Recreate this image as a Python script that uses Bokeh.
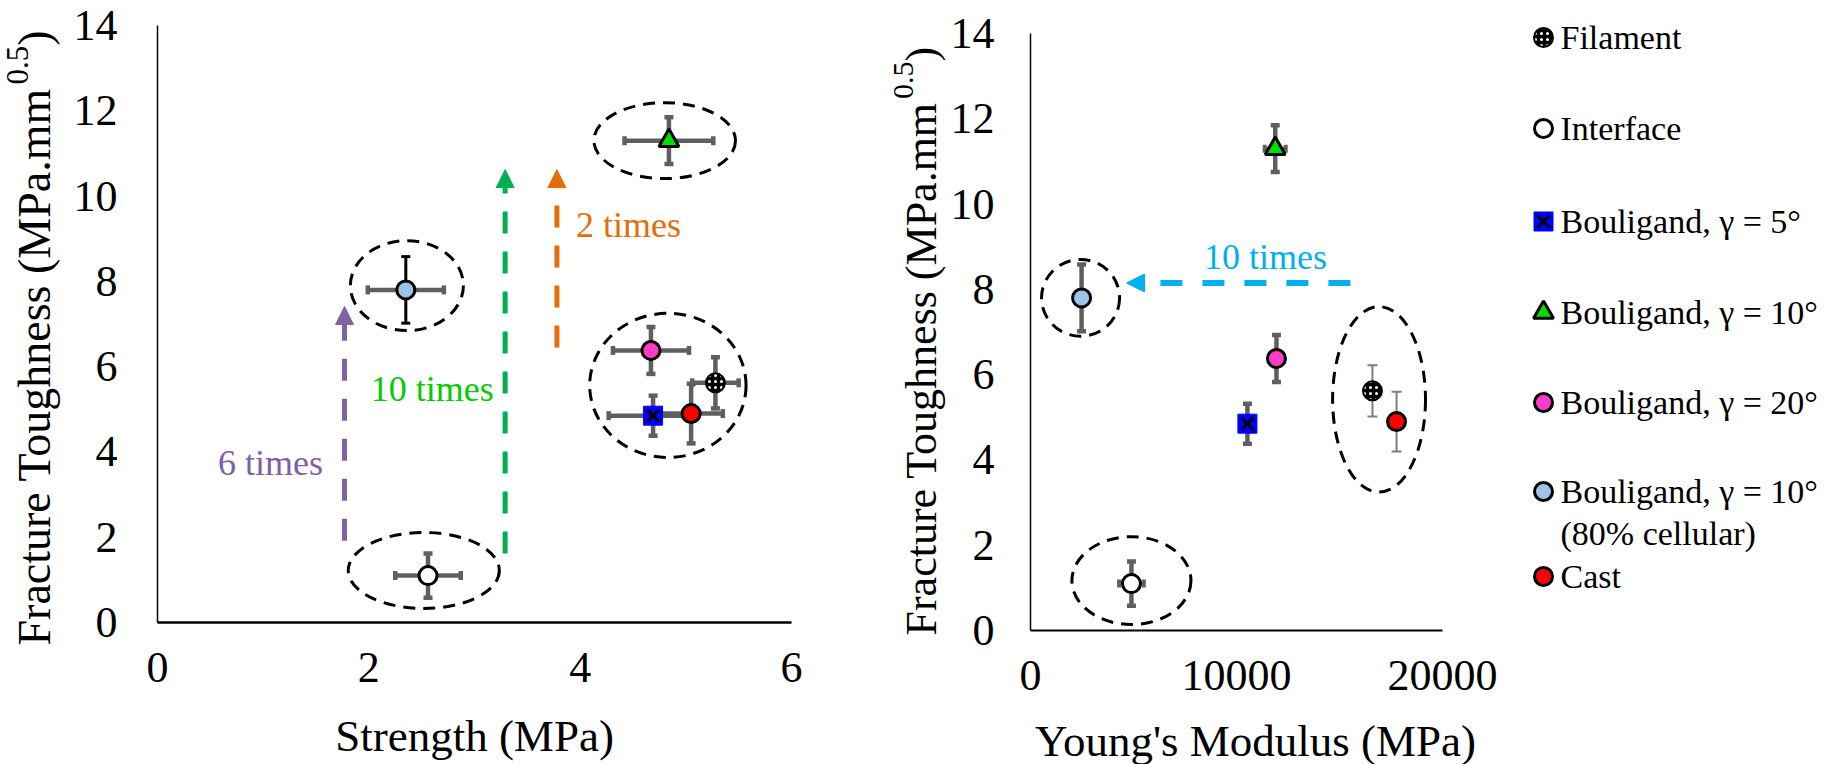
import math
from bokeh.plotting import figure
from bokeh.layouts import row, column
from bokeh.models import (Range1d, FixedTicker, Whisker, TeeHead, ColumnDataSource,
                          Arrow, NormalHead, Label)
from bokeh.core.properties import value
from bokeh.embed import file_html
from bokeh.resources import INLINE

FONT = "Liberation Serif"

# ---------------- data ----------------
series = ["Filament", "Interface", "Bouligand, γ = 5°", "Bouligand, γ = 10°",
          "Bouligand, γ = 20°", "Bouligand, γ = 10°", "Cast"]
legend_lines = ["Filament", "Interface", "Bouligand, γ = 5°", "Bouligand, γ = 10°",
                "Bouligand, γ = 20°", "Bouligand, γ = 10°", "(80% cellular)", "Cast"]
fill_colors = ["#000000", "#FFFFFF", "#0000FF", "#00E000", "#FF3CC8", "#9DC3E6", "#FF0000"]
markers = ["circle", "circle", "square", "triangle", "circle", "circle", "circle"]

strength = [5.28, 2.56, 4.69, 4.84, 4.67, 2.35, 5.05]
strength_err = [0.22, 0.31, 0.42, 0.42, 0.36, 0.36, 0.30]
toughness = [5.62, 1.10, 4.85, 11.30, 6.38, 7.80, 4.90]
toughness_err = [0.60, 0.52, 0.47, 0.55, 0.55, 0.78, 0.70]
modulus = [16600, 4900, 10530, 11880, 11940, 2480, 17770]
modulus_err = [0, 600, 0, 510, 0, 0, 0]

x1_ticks = [0, 2, 4, 6]
y_ticks = [0, 2, 4, 6, 8, 10, 12, 14]
x2_ticks = [0, 10000, 20000]

x_titles = ["Strength (MPa)", "Young's Modulus (MPa)"]
y_title_parts = ["Fracture Toughness (MPa.mm", "0.5", ")"]

# group ellipses (centre x, centre y, width, height)
ell1_x = [4.80, 2.36, 4.83, 2.52]
ell1_y = [11.30, 7.90, 5.56, 1.22]
ell1_w = [1.34, 1.07, 1.48, 1.43]
ell1_h = [1.78, 2.11, 3.38, 1.78]
ell2_x = [2430, 4900, 16920]
ell2_y = [7.80, 1.17, 5.42]
ell2_w = [3790, 5780, 4510]
ell2_h = [1.80, 2.06, 4.35]

# annotations
arrows1 = [  # x, y_start, y_end, colour
    (1.77, 1.92, 7.41, "#8064A2"),
    (3.29, 1.62, 10.62, "#00B050"),
    (3.78, 6.45, 10.62, "#E46C0A"),
]
texts1 = [  # x, y, text, colour, align
    (1.07, 3.73, "6 times", "#7F5FA5", "center"),
    (2.60, 5.47, "10 times", "#00CC00", "center"),
    (3.96, 9.31, "2 times", "#E46C0A", "left"),
]
arrow2 = (15530, 4660, 8.15, "#00B0F0")
text2 = (11410, 8.76, "10 times", "#00B0F0")

GREY = "#5F5F5F"
W = 1825
RH = 710          # height of the row with the plots
XH = 764 - RH     # height of the strip holding the x-axis titles


def style_axes(p, xticks, yticks, ystand):
    p.xaxis.ticker = FixedTicker(ticks=xticks)
    p.yaxis.ticker = FixedTicker(ticks=yticks)
    for ax in (p.xaxis, p.yaxis):
        ax.major_tick_line_color = None
        ax.minor_tick_line_color = None
        ax.major_tick_out = 0
        ax.major_tick_in = 0
        ax.major_label_text_font = FONT
        ax.major_label_text_font_size = "44px"
        ax.major_label_text_color = "black"
        ax.axis_line_color = "black"
    p.xaxis.axis_line_width = 2.5
    p.yaxis.axis_line_width = 1.5
    p.yaxis.major_label_standoff = ystand
    p.xaxis.major_label_standoff = 30
    p.xgrid.visible = False
    p.ygrid.visible = False
    p.outline_line_color = None


def add_whisker(p, xs, ys, errs, idx, dim, color, width, cap):
    sel = [i for i in idx if errs[i] > 0]
    if not sel:
        return
    if dim == "height":
        d = dict(base=[xs[i] for i in sel], lower=[ys[i] - errs[i] for i in sel],
                 upper=[ys[i] + errs[i] for i in sel])
    else:
        d = dict(base=[ys[i] for i in sel], lower=[xs[i] - errs[i] for i in sel],
                 upper=[xs[i] + errs[i] for i in sel])
    w = Whisker(source=ColumnDataSource(d), base="base", lower="lower", upper="upper",
                dimension=dim, line_color=color, line_width=width, level="underlay",
                upper_head=TeeHead(size=cap, line_color=color, line_width=width),
                lower_head=TeeHead(size=cap, line_color=color, line_width=width))
    p.add_layout(w)


def draw_marker(p, x, y, i):
    if i == 0:
        p.scatter([x], [y], marker="circle", size=19, fill_color="black", line_color="black",
                  line_width=2, hatch_pattern="dot", hatch_color="white", hatch_scale=6,
                  hatch_weight=1.5)
    elif i == 2:
        p.scatter([x], [y], marker="square", size=19, fill_color=fill_colors[i],
                  line_color="#0000FF", line_width=1)
        p.scatter([x], [y], marker="x", size=17, line_color="black", line_width=3)
    elif i == 3:
        p.scatter([x], [y], marker="triangle", size=20, fill_color=fill_colors[i],
                  line_color="black", line_width=3)
    else:
        p.scatter([x], [y], marker="circle", size=18, fill_color=fill_colors[i],
                  line_color="black", line_width=3)


def strip(width, height, flip=False):
    yr = Range1d(height, 0) if flip else Range1d(0, height)
    s = figure(width=width, height=height, min_border=0, min_border_left=0,
               min_border_right=0, min_border_top=0, min_border_bottom=0,
               x_range=Range1d(0, width), y_range=yr, output_backend="svg",
               toolbar_location=None, x_axis_location=None, y_axis_location=None,
               frame_align=False)
    s.xgrid.visible = False
    s.ygrid.visible = False
    s.outline_line_color = None
    return s


def draw_y_title(s, xb, yb, fs, fs_sup, sup_raise):
    # xb: baseline x, yb: pixel row where the text starts (it reads bottom-to-top)
    h = s.height
    main_len = 12.193 * fs
    sup_len = 1.25 * fs_sup
    common = dict(angle=math.pi / 2, text_align="left", text_baseline="middle",
                  text_font=value(FONT), text_color="black")
    xm = xb - 0.34 * fs
    xs = xb - sup_raise - 0.34 * fs_sup
    s.text(x=[xm], y=[h - yb], text=[y_title_parts[0]], text_font_size=f"{fs}px", **common)
    s.text(x=[xs], y=[h - (yb - main_len)], text=[y_title_parts[1]],
           text_font_size=f"{fs_sup}px", **common)
    s.text(x=[xm], y=[h - (yb - main_len - sup_len)], text=[y_title_parts[2]],
           text_font_size=f"{fs}px", **common)


# ---------------- y-title strips ----------------
t1 = strip(70, RH)
draw_y_title(t1, 50, 645, 46, 31, 22)
t2 = strip(77, RH)
draw_y_title(t2, 66, 635, 44, 30, 23)

# ---------------- left plot: strength ----------------
p1 = figure(frame_width=634, frame_height=597, min_border_left=87, min_border_right=79,
            min_border_top=25, min_border_bottom=RH - 25 - 597, x_range=Range1d(0, 6),
            y_range=Range1d(0, 14), output_backend="svg", toolbar_location=None,
            frame_align=False)
style_axes(p1, x1_ticks, y_ticks, 40)

p1.ellipse(x=ell1_x, y=ell1_y, width=ell1_w, height=ell1_h, fill_color=None,
           line_color="black", line_width=3, line_dash="12 8")

n = len(series)
add_whisker(p1, strength, toughness, strength_err, range(n), "width", GREY, 4.5, 9)
add_whisker(p1, strength, toughness, toughness_err, [i for i in range(n) if i != 5],
            "height", GREY, 4.5, 9)
add_whisker(p1, strength, toughness, toughness_err, [5], "height", "black", 3, 9)
for i in range(n):
    draw_marker(p1, strength[i], toughness[i], i)

for (ax, y0, y1, c) in arrows1:
    p1.add_layout(Arrow(x_start=ax, y_start=y0, x_end=ax, y_end=y1, line_color=c,
                        line_width=5, line_dash="22 18",
                        end=NormalHead(size=18, fill_color=c, line_color=c, line_width=1)))
for (tx, ty, t, c, al) in texts1:
    p1.add_layout(Label(x=tx, y=ty, text=t, text_color=c, text_font=FONT,
                        text_font_size="36px", text_align=al, text_baseline="middle"))

# ---------------- right plot: modulus ----------------
p2 = figure(frame_width=412, frame_height=597, min_border_left=81, min_border_right=60,
            min_border_top=33, min_border_bottom=RH - 33 - 597, x_range=Range1d(0, 20000),
            y_range=Range1d(0, 14), output_backend="svg", toolbar_location=None,
            frame_align=False)
style_axes(p2, x2_ticks, y_ticks, 36)
p2.xaxis.axis_line_width = 2

p2.ellipse(x=ell2_x, y=ell2_y, width=ell2_w, height=ell2_h, fill_color=None,
           line_color="black", line_width=3, line_dash="12 8")

add_whisker(p2, modulus, toughness, modulus_err, range(n), "width", GREY, 4, 8)
add_whisker(p2, modulus, toughness, toughness_err, [1, 2, 3, 4, 5], "height", GREY, 4.5, 9)
add_whisker(p2, modulus, toughness, toughness_err, [0, 6], "height", "#7F7F7F", 2, 10)
for i in range(n):
    draw_marker(p2, modulus[i], toughness[i], i)

ax0, ax1, ay, ac = arrow2
p2.add_layout(Arrow(x_start=ax0, y_start=ay, x_end=ax1, y_end=ay, line_color=ac,
                    line_width=6, line_dash="22 20",
                    end=NormalHead(size=18, fill_color=ac, line_color=ac, line_width=1)))
p2.add_layout(Label(x=text2[0], y=text2[1], text=text2[2], text_color=text2[3], text_font=FONT,
                    text_font_size="36px", text_align="center", text_baseline="middle"))

# ---------------- legend panel ----------------
p3 = strip(325, RH, flip=True)
leg_marker_y = [37, 128, 221, 312, 402, 491, 576]
leg_text_y = [37, 128, 221, 312, 402, 491, 533, 576]
for i in range(n):
    draw_marker(p3, 41, leg_marker_y[i], i)
p3.text(x=[58] * len(legend_lines), y=leg_text_y, text=legend_lines,
        text_font=value(FONT), text_font_size="34px", text_baseline="middle",
        text_align="left", text_color="black")

# ---------------- x-title strip ----------------
xs_ = strip(W, XH, flip=True)
xs_.text(x=[474, 1255], y=[735 - RH, 740 - RH], text=x_titles, text_font=value(FONT),
         text_font_size="45px", text_align="center", text_baseline="middle",
         text_color="black")

layout = column(row(t1, p1, t2, p2, p3), xs_)
open("out.html", "w").write(file_html(layout, INLINE))
